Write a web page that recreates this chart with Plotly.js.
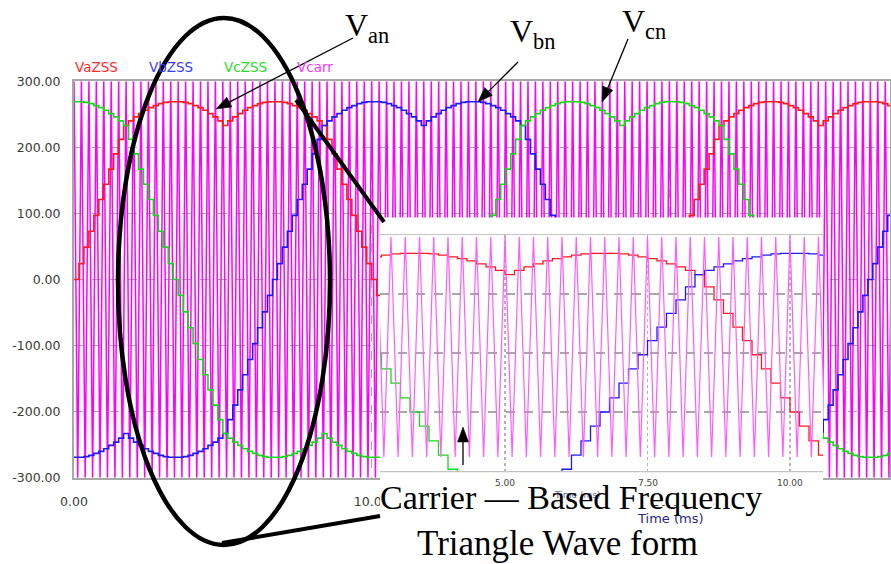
<!DOCTYPE html>
<html><head><meta charset="utf-8">
<script src="https://cdn.plot.ly/plotly-3.0.1.min.js"></script>
<style>body{margin:0;background:#fff}#chart{width:891px;height:564px}</style>
</head><body><div id="chart"></div>
<script>
// ---- data ----
const sampleStepMs = 1/6;   // staircase update interval (ms)
const vaZSS = [0,24,49,73,97,121,144,167,190,212,233,240,246,251,256,260,263,266,268,269,269,269,268,266,263,260,256,251,246,240,233,240,246,251,256,260,263,266,268,269,269,269,268,266,263,260,256,251,246,240,233,212,190,167,144,121,97,73,49,24,
0,-24,-49,-73,-97,-121,-144,-167,-190,-212,-233,-240,-246,-251,-256,-260,-263,-266,-268,-269,-269,-269,-268,-266,-263,-260,-256,-251,-246,-240,-233,-240,-246,-251,-256,-260,-263,-266,-268,-269,-269,-269,-268,-266,-263,-260,-256,-251,-246,-240,-233,-212,-190,-167,-144,-121,-97,-73,-49,-24,
0,24,49,73,97,121,144,167,190,212,233,240,246,251,256,260,263,266,268,269,269,269,268,266,263,260,256,251,246,240,233,240,246,251,256,260,263,266,268,269,269,269,268,266,263,260,256,251];
const vbZSS = [-269,-269,-268,-266,-263,-260,-256,-251,-246,-240,-233,-240,-246,-251,-256,-260,-263,-266,-268,-269,-269,-269,-268,-266,-263,-260,-256,-251,-246,-240,-233,-212,-190,-167,-144,-121,-97,-73,-49,-24,
0,24,49,73,97,121,144,167,190,212,233,240,246,251,256,260,263,266,268,269,269,269,268,266,263,260,256,251,246,240,233,240,246,251,256,260,263,266,268,269,269,269,268,266,263,260,256,251,246,240,233,212,190,167,144,121,97,73,49,24,
0,-24,-49,-73,-97,-121,-144,-167,-190,-212,-233,-240,-246,-251,-256,-260,-263,-266,-268,-269,-269,-269,-268,-266,-263,-260,-256,-251,-246,-240,-233,-240,-246,-251,-256,-260,-263,-266,-268,-269,-269,-269,-268,-266,-263,-260,-256,-251,-246,-240,-233,-212,-190,-167,-144,-121,-97,-73,-49,-24,
0,24,49,73,97,121,144,167];
const vcZSS = [269,269,268,266,263,260,256,251,246,240,233,212,190,167,144,121,97,73,49,24,
0,-24,-49,-73,-97,-121,-144,-167,-190,-212,-233,-240,-246,-251,-256,-260,-263,-266,-268,-269,-269,-269,-268,-266,-263,-260,-256,-251,-246,-240,-233,-240,-246,-251,-256,-260,-263,-266,-268,-269,-269,-269,-268,-266,-263,-260,-256,-251,-246,-240,-233,-212,-190,-167,-144,-121,-97,-73,-49,-24,
0,24,49,73,97,121,144,167,190,212,233,240,246,251,256,260,263,266,268,269,269,269,268,266,263,260,256,251,246,240,233,240,246,251,256,260,263,266,268,269,269,269,268,266,263,260,256,251,246,240,233,212,190,167,144,121,97,73,49,24,
0,-24,-49,-73,-97,-121,-144,-167,-190,-212,-233,-240,-246,-251,-256,-260,-263,-266,-268,-269,-269,-269,-268,-266,-263,-260,-256,-251];
const carrierPeakValues = [300, -300];  // triangle carrier extremes
const carrierHalfPeriodMs = 0.125;      // 4 kHz carrier
const carrierEndMs = 27.5;
const seriesNames = ['VaZSS', 'VbZSS', 'VcZSS', 'Vcarr'];
const yTickVals = [300, 200, 100, 0, -100, -200, -300];
const yTickText = ['300.00', '200.00', '100.00', '0.00', '-100.00', '-200.00', '-300.00'];
const xTickVals = [0, 10, 20];
const xTickText = ['0.00', '10.00', '20.00'];
const insetXTickVals = [5, 7.5, 10];
const insetXTickText = ['5.00', '7.50', '10.00'];
const insetYGridVals = [0, 100, 200];

// ---- build ----
const t = vaZSS.map((_, i) => i * sampleStepMs);
const ct = [], cv = [];
for (let i = 0; i * carrierHalfPeriodMs <= carrierEndMs; i++) {
  ct.push(i * carrierHalfPeriodMs);
  cv.push(carrierPeakValues[i % 2]);
}
const W = 891, H = 564;
const px = x => x / W, py = y => 1 - y / H;

const red = '#ff1a1a', blue = '#1a1aff', green = '#14dc14', mag = '#ff00ff';
const traces = [
  {x: ct, y: cv, xaxis: 'x', yaxis: 'y', mode: 'lines', line: {color: mag, width: 1.5}, name: seriesNames[3]},
  {x: t, y: vaZSS, xaxis: 'x', yaxis: 'y', mode: 'lines', line: {color: red, width: 1.6, shape: 'hv'}, name: seriesNames[0]},
  {x: t, y: vbZSS, xaxis: 'x', yaxis: 'y', mode: 'lines', line: {color: blue, width: 1.6, shape: 'hv'}, name: seriesNames[1]},
  {x: t, y: vcZSS, xaxis: 'x', yaxis: 'y', mode: 'lines', line: {color: green, width: 1.6, shape: 'hv'}, name: seriesNames[2]},
  {x: ct, y: cv, xaxis: 'x2', yaxis: 'y3', mode: 'lines', line: {color: '#ff5cff', width: 1.2}, name: seriesNames[3]},
  {x: t, y: vaZSS, xaxis: 'x2', yaxis: 'y2', mode: 'lines', line: {color: red, width: 1.3, shape: 'hv'}, name: seriesNames[0]},
  {x: t, y: vbZSS, xaxis: 'x2', yaxis: 'y2', mode: 'lines', line: {color: blue, width: 1.3, shape: 'hv'}, name: seriesNames[1]},
  {x: t, y: vcZSS, xaxis: 'x2', yaxis: 'y2', mode: 'lines', line: {color: green, width: 1.3, shape: 'hv'}, name: seriesNames[2]}
];

const tickFont = {family: 'DejaVu Sans', size: 12.5, color: '#3a3a3a'};
const layout = {
  width: W, height: H, margin: {l: 0, r: 0, t: 0, b: 0},
  paper_bgcolor: '#fff', plot_bgcolor: '#fff', showlegend: false,
  font: {family: 'DejaVu Sans'},
  xaxis: {domain: [px(74), px(890)], range: [0, 27.41], anchor: 'y',
    tickvals: xTickVals, ticktext: xTickText, tickfont: tickFont, ticks: '', ticklabelstandoff: 11,
    showgrid: true, gridcolor: '#a8a8a8', griddash: 'dash', gridwidth: 1.5,
    showline: true, mirror: true, linecolor: '#a8a8a8', linewidth: 2, zeroline: false},
  yaxis: {domain: [py(477.8), py(81.2)], range: [-300, 300], anchor: 'x',
    tickvals: yTickVals, ticktext: yTickText, tickfont: tickFont, ticks: '', ticklabelstandoff: 9,
    showgrid: true, gridcolor: '#a8a8a8', griddash: 'dash', gridwidth: 1.5,
    showline: true, mirror: true, linecolor: '#a8a8a8', linewidth: 2, zeroline: false},
  xaxis2: {domain: [px(380), px(823)], range: [2.807, 10.579], anchor: 'y2',
    tickvals: insetXTickVals, showticklabels: false, ticks: '',
    showgrid: true, gridcolor: '#b4b4b4', griddash: 'dot', gridwidth: 1.2,
    showline: true, mirror: true, linecolor: '#c4c4c4', linewidth: 2, zeroline: false},
  yaxis2: {domain: [py(471), py(235)], range: [-100, 300], anchor: 'x2',
    tickvals: insetYGridVals, showticklabels: false, ticks: '',
    showgrid: true, gridcolor: '#a8a8a8', griddash: 'dash', gridwidth: 1.2,
    showline: false, zeroline: false},
  yaxis3: {overlaying: 'y2', anchor: 'x2', range: [-338, 305.5], visible: false},
  shapes: [
    {type: 'rect', xref: 'paper', yref: 'paper', x0: px(380), x1: px(823), y0: py(234), y1: py(217.5), fillcolor: '#fff', line: {width: 0}, layer: 'above'},
    {type: 'rect', xref: 'paper', yref: 'paper', x0: px(380), x1: px(823), y0: py(505), y1: py(472.2), fillcolor: '#fff', line: {width: 0}, layer: 'above'},
    {type: 'circle', xref: 'paper', yref: 'paper', x0: px(118), x1: px(330), y0: py(545), y1: py(18), line: {color: '#000', width: 4.5}, layer: 'above'},
    {type: 'line', xref: 'paper', yref: 'paper', x0: px(222), y0: py(543), x1: px(380), y1: py(516), line: {color: '#000', width: 4}, layer: 'above'},
    {type: 'line', xref: 'paper', yref: 'paper', x0: px(296), y0: py(100), x1: px(384), y1: py(222), line: {color: '#000', width: 4}, layer: 'above'}
  ],
  annotations: []
};
// pointer arrows drawn as shapes: [tipX, tipY, tailX, tailY] in page pixels
const arrows = [[216, 109, 353, 38], [478, 102, 518, 62], [602, 102, 628, 39], [463, 427, 463, 465]];
arrows.forEach(a => {
  const [x1, y1, x0, y0] = a;
  const dx = x1 - x0, dy = y1 - y0, L = Math.hypot(dx, dy), ux = dx / L, uy = dy / L;
  const hl = 15, hw = 5.5;
  const bx = x1 - ux * hl, by = y1 - uy * hl;
  layout.shapes.push({type: 'line', xref: 'paper', yref: 'paper', x0: px(x0), y0: py(y0), x1: px(bx), y1: py(by),
    line: {color: '#000', width: 1.3}, layer: 'above'});
  const p = [[x1, y1], [bx - uy * hw, by + ux * hw], [bx + uy * hw, by - ux * hw]];
  layout.shapes.push({type: 'path', xref: 'paper', yref: 'paper',
    path: 'M' + p.map(q => px(q[0]) + ',' + py(q[1])).join(' L') + ' Z',
    fillcolor: '#000', line: {color: '#000', width: 0.5}, layer: 'above'});
});
const A = layout.annotations;
const legendColors = ['#ff2a2a', '#3a3aff', '#2add2a', '#ff33ff'];
const legendX = [73, 147, 222, 295];
seriesNames.forEach((n, i) => A.push({text: n, xref: 'paper', yref: 'paper', x: px(legendX[i]), y: py(67),
  xanchor: 'left', yanchor: 'middle', showarrow: false, font: {family: 'DejaVu Sans', size: 13.5, color: legendColors[i]}}));
insetXTickVals.forEach((v, i) => A.push({text: insetXTickText[i], xref: 'x2', yref: 'paper', x: v, y: py(483),
  xanchor: 'center', yanchor: 'middle', showarrow: false, font: {family: 'DejaVu Sans', size: 9, color: '#444'}}));
A.push({text: 'Time (ms)', xref: 'paper', yref: 'paper', x: px(577), y: py(495), xanchor: 'center', yanchor: 'middle',
  showarrow: false, font: {family: 'DejaVu Sans', size: 9, color: '#6a6aa0'}});
A.push({text: 'Time (ms)', xref: 'paper', yref: 'paper', x: px(670), y: py(518), xanchor: 'center', yanchor: 'middle',
  showarrow: false, font: {family: 'DejaVu Sans', size: 13, color: '#2a2a86'}});
const serif = 'Liberation Serif, Times New Roman, serif';
A.push({text: 'Carrier — Based Frequency', xref: 'paper', yref: 'paper', x: px(378), y: py(497), xanchor: 'left', yanchor: 'middle',
  showarrow: false, font: {family: serif, size: 34, color: '#000'}});
A.push({text: 'Triangle Wave form', xref: 'paper', yref: 'paper', x: px(415), y: py(543), xanchor: 'left', yanchor: 'middle',
  showarrow: false, font: {family: serif, size: 35, color: '#000'}});
const vLabels = [['V<sub>an</sub>', 343, 28], ['V<sub>bn</sub>', 508, 33], ['V<sub>cn</sub>', 620, 24]];
vLabels.forEach(l => A.push({text: l[0], xref: 'paper', yref: 'paper', x: px(l[1]), y: py(l[2]), xanchor: 'left', yanchor: 'middle',
  showarrow: false, font: {family: serif, size: 32, color: '#000'}}));

Plotly.newPlot('chart', traces, layout, {displayModeBar: false, staticPlot: true});
</script></body></html>
